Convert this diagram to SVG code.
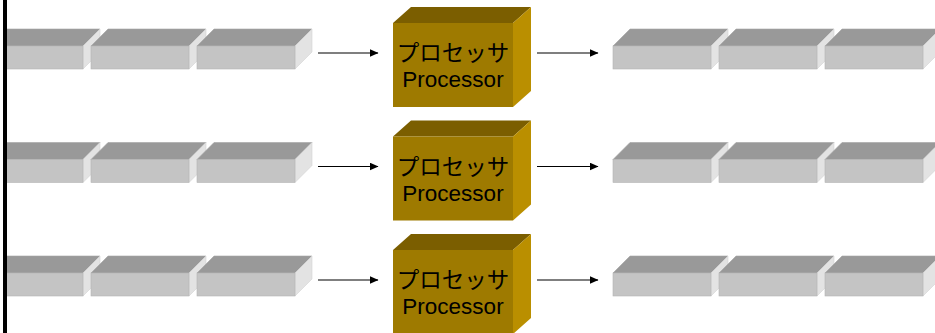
<svg xmlns="http://www.w3.org/2000/svg" xmlns:xlink="http://www.w3.org/1999/xlink" width="935" height="333" viewBox="0 0 935 333">
  <style>
    .bf { fill: #C4C4C4; stroke: #B4B4B4; stroke-width: 0.6; }
    .bt { fill: #999999; stroke: #A4A4A4; stroke-width: 0.6; }
    .bs { fill: #E3E3E3; stroke: #D4D4D4; stroke-width: 0.6; }
    .pf { fill: #9E7A00; }
    .pt { fill: #7B5E00; }
    .ps { fill: #BA8F00; }
    .lbl { font-family: "Liberation Sans", "Noto Sans CJK JP", sans-serif; font-size: 22.5px; fill: #000; text-anchor: middle; }
    .conn { stroke: #000; stroke-width: 1.2; fill: none; marker-end: url(#arrow); }
  </style>
  <defs>
    <marker id="arrow" markerWidth="9" markerHeight="8" refX="8.5" refY="4" orient="auto" markerUnits="userSpaceOnUse">
      <path d="M0,0 L9,4 L0,8 Z" fill="#000"/>
    </marker>
    <g id="brick">
      <polygon class="bt" points="0,17 17,0 115,0 98,17"/>
      <polygon class="bs" points="98,17 115,0 115,23 98,40"/>
      <rect class="bf" x="0" y="17" width="98" height="23"/>
    </g>
    <g id="proc">
      <polygon class="pt" points="0,16 18,0 138,0 120,16"/>
      <polygon class="ps" points="120,16 138,0 138,84 120,100"/>
      <rect class="pf" x="0" y="16" width="120" height="84"/>
    </g>
  </defs>
  <rect width="935" height="333" fill="#FFFFFF"/>

  <!-- row 1 -->
  <g id="in1a"><use xlink:href="#brick" x="-15" y="29"/></g>
  <g id="in1b"><use xlink:href="#brick" x="91" y="29"/></g>
  <g id="in1c"><use xlink:href="#brick" x="197" y="29"/></g>
  <g id="proc1">
    <use xlink:href="#proc" x="393" y="7"/>
    <text class="lbl" x="453" y="61">プロセッサ</text>
    <text class="lbl" x="453" y="87">Processor</text>
  </g>
  <g id="out1a"><use xlink:href="#brick" x="613" y="29"/></g>
  <g id="out1b"><use xlink:href="#brick" x="719" y="29"/></g>
  <g id="out1c"><use xlink:href="#brick" x="825" y="29"/></g>

  <!-- row 2 -->
  <g id="in2a"><use xlink:href="#brick" x="-15" y="142.5"/></g>
  <g id="in2b"><use xlink:href="#brick" x="91" y="142.5"/></g>
  <g id="in2c"><use xlink:href="#brick" x="197" y="142.5"/></g>
  <g id="proc2">
    <use xlink:href="#proc" x="393" y="120.5"/>
    <text class="lbl" x="453" y="174.5">プロセッサ</text>
    <text class="lbl" x="453" y="200.5">Processor</text>
  </g>
  <g id="out2a"><use xlink:href="#brick" x="613" y="142.5"/></g>
  <g id="out2b"><use xlink:href="#brick" x="719" y="142.5"/></g>
  <g id="out2c"><use xlink:href="#brick" x="825" y="142.5"/></g>

  <!-- row 3 -->
  <g id="in3a"><use xlink:href="#brick" x="-15" y="256"/></g>
  <g id="in3b"><use xlink:href="#brick" x="91" y="256"/></g>
  <g id="in3c"><use xlink:href="#brick" x="197" y="256"/></g>
  <g id="proc3">
    <use xlink:href="#proc" x="393" y="234"/>
    <text class="lbl" x="453" y="288">プロセッサ</text>
    <text class="lbl" x="453" y="314">Processor</text>
  </g>
  <g id="out3a"><use xlink:href="#brick" x="613" y="256"/></g>
  <g id="out3b"><use xlink:href="#brick" x="719" y="256"/></g>
  <g id="out3c"><use xlink:href="#brick" x="825" y="256"/></g>

  <g id="connectors">
    <line class="conn" x1="318" y1="53" x2="378" y2="53"/>
    <line class="conn" x1="537" y1="53" x2="598" y2="53"/>
    <line class="conn" x1="318" y1="166.5" x2="378" y2="166.5"/>
    <line class="conn" x1="537" y1="166.5" x2="598" y2="166.5"/>
    <line class="conn" x1="318" y1="280" x2="378" y2="280"/>
    <line class="conn" x1="537" y1="280" x2="598" y2="280"/>
  </g>

  <rect x="0" y="0" width="3" height="333" fill="#FFFFFF"/>
  <rect id="border" x="3" y="0" width="4" height="333" fill="#000"/>
</svg>
